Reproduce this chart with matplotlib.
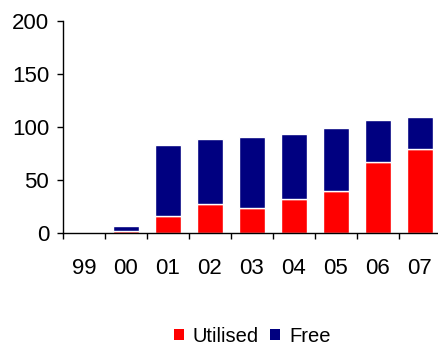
import matplotlib.pyplot as plt
from matplotlib.patches import Patch
import numpy as np

# years and capacity split
years = ['99', '00', '01', '02', '03', '04', '05', '06', '07']
utilised = [0, 2, 16, 28, 24, 32, 40, 67, 79]
free = [0, 4.5, 67, 61, 67, 61, 59, 40, 30]

red = '#FF0000'
navy = '#000080'

plt.rcParams['font.family'] = ['Liberation Sans', 'DejaVu Sans']

fig = plt.figure(figsize=(4.38, 3.45), dpi=100)
ax = fig.add_axes([63/438, 111.7/345, 378/438, 212.6/345])

x = np.arange(len(years))
ax.bar(x, utilised, width=0.62, color=red, edgecolor='white', linewidth=1)
ax.bar(x, free, width=0.62, bottom=utilised, color=navy, edgecolor='white', linewidth=1)

ax.set_xlim(-0.5, len(years) - 0.5)
ax.set_ylim(0, 200)
ax.set_yticks([0, 50, 100, 150, 200])

# category labels sit between the boundary ticks
ax.set_xticks(np.arange(len(years) + 1) - 0.5)
ax.set_xticklabels([])
ax.set_xticks(x, minor=True)
ax.set_xticklabels(years, minor=True)
ax.tick_params(axis='x', which='major', direction='out', length=4, width=1)
ax.tick_params(axis='x', which='minor', length=0, pad=18, labelsize=16)
ax.tick_params(axis='y', direction='out', length=4, width=1, pad=6, labelsize=16)

for s in ['top', 'right']:
    ax.spines[s].set_visible(False)
for s in ['left', 'bottom']:
    ax.spines[s].set_color('black')
    ax.spines[s].set_linewidth(1)

handles = [Patch(facecolor=red, edgecolor='none', label='Utilised'),
           Patch(facecolor=navy, edgecolor='none', label='Free')]
fig.legend(handles=handles, loc='center', bbox_to_anchor=(252/438, 1 - 336/345),
           ncol=2, frameon=False, fontsize=14.5, handlelength=0.5, handleheight=0.5,
           handletextpad=0.45, columnspacing=0.55)

plt.savefig('out.png', dpi=100)
